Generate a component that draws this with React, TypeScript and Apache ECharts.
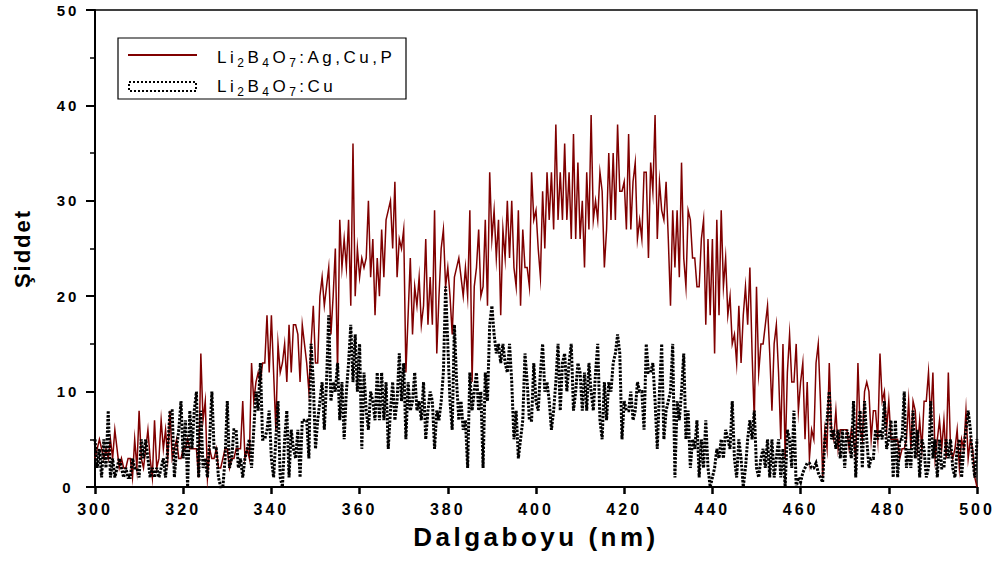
import { useEffect, useRef } from "react";
import * as echarts from "echarts";

// Spectra sampled every 0.5 nm from 300 nm to 500 nm
const WL_START = 300;
const WL_STEP = 0.5;

// Li2B4O7:Ag,Cu,P emission intensity (one row = 5 nm)
const AG_CU_P = [
  3, 4, 5, 4, 3, 4, 3, 5, 3, 6,
  4, 2, 3, 2, 2, 3, 3, 1, 5, 2,
  8, 3, 2, 4, 6, 3, 1, 7, 2, 3,
  7, 4, 6, 3, 8, 3, 4, 5, 3, 3,
  4, 4, 5, 4, 4, 4, 4, 1, 14, 7,
  9, 1, 4, 3, 3, 4, 2, 2, 3, 4,
  4, 2, 3, 3, 4, 4, 4, 9, 3, 4,
  3, 13, 9, 11, 12, 11, 13, 13, 18, 12,
  18, 12, 6, 15, 12, 13, 15, 11, 17, 12,
  17, 17, 16, 11, 17, 15, 13, 10, 15, 19,
  13, 13, 20, 22, 19, 21, 23, 16, 20, 25,
  12, 28, 23, 26, 23, 28, 19, 36, 20, 25,
  22, 24, 23, 24, 30, 22, 26, 18, 24, 20,
  27, 22, 28, 29, 30, 25, 32, 22, 26, 25,
  27, 12, 18, 24, 16, 21, 19, 22, 17, 19,
  26, 17, 22, 17, 29, 14, 20, 25, 27, 21,
  23, 20, 16, 22, 23, 24, 22, 20, 23, 20,
  29, 11, 21, 23, 27, 20, 21, 28, 19, 33,
  26, 29, 24, 28, 18, 27, 24, 30, 24, 30,
  23, 21, 29, 19, 27, 23, 23, 21, 33, 28,
  29, 25, 22, 31, 25, 33, 28, 33, 27, 38,
  28, 33, 28, 36, 28, 33, 26, 37, 26, 34,
  26, 30, 23, 33, 27, 39, 28, 30, 28, 33,
  31, 23, 27, 35, 28, 35, 28, 38, 31, 31,
  32, 27, 37, 27, 32, 34, 26, 28, 26, 33,
  33, 24, 34, 31, 39, 26, 32, 29, 28, 32,
  26, 19, 29, 23, 29, 22, 34, 24, 21, 29,
  28, 24, 24, 21, 21, 26, 28, 17, 26, 18,
  26, 14, 28, 18, 29, 21, 24, 18, 20, 15,
  16, 13, 19, 13, 18, 21, 17, 23, 14, 7,
  21, 12, 15, 15, 17, 19, 14, 8, 15, 17,
  12, 5, 15, 3, 12, 16, 11, 11, 15, 8,
  11, 13, 5, 11, 3, 6, 5, 13, 15, 9,
  1, 6, 4, 13, 6, 5, 8, 4, 6, 6,
  6, 6, 4, 6, 5, 3, 13, 6, 5, 10,
  11, 10, 5, 8, 8, 5, 14, 9, 10, 6,
  9, 5, 5, 5, 5, 3, 4, 4, 5, 9,
  4, 9, 8, 4, 7, 4, 9, 9, 12, 7,
  12, 3, 5, 7, 4, 7, 3, 12, 4, 3,
  4, 6, 2, 5, 4, 8, 3, 5, 4, 1,
  0,
];

// Li2B4O7:Cu emission intensity (one row = 5 nm)
const CU = [
  5, 2, 4, 1, 5, 2, 8, 1, 3, 1,
  2, 3, 2, 1, 2, 1, 1, 3, 2, 2,
  1, 5, 3, 5, 3, 1, 2, 1, 2, 1,
  2, 3, 1, 4, 8, 8, 1, 4, 6, 9,
  3, 7, 0, 8, 4, 8, 10, 1, 8, 2,
  3, 1, 5, 10, 4, 4, 1, 0, 0, 3,
  9, 2, 3, 6, 6, 2, 3, 1, 3, 4,
  5, 2, 6, 10, 8, 13, 5, 5, 6, 8,
  3, 1, 5, 9, 1, 0, 5, 8, 1, 6,
  4, 3, 6, 1, 7, 7, 7, 3, 15, 11,
  4, 7, 9, 11, 6, 11, 18, 9, 11, 10,
  13, 7, 11, 5, 10, 13, 17, 11, 16, 10,
  15, 4, 12, 8, 6, 10, 9, 7, 12, 7,
  12, 7, 11, 4, 8, 11, 7, 9, 14, 9,
  13, 5, 11, 8, 9, 12, 8, 9, 7, 11,
  5, 8, 10, 9, 4, 8, 7, 9, 12, 21,
  15, 9, 6, 17, 11, 7, 9, 6, 7, 2,
  12, 8, 10, 12, 8, 10, 2, 12, 9, 17,
  19, 16, 14, 15, 13, 15, 13, 12, 15, 11,
  5, 8, 3, 5, 7, 14, 11, 7, 7, 13,
  9, 8, 12, 15, 10, 11, 9, 6, 8, 11,
  15, 8, 13, 14, 10, 13, 15, 8, 10, 13,
  12, 8, 12, 8, 13, 10, 8, 12, 15, 7,
  5, 11, 7, 11, 10, 13, 14, 16, 14, 5,
  9, 8, 8, 10, 7, 8, 11, 10, 10, 6,
  15, 12, 12, 13, 9, 4, 10, 15, 5, 8,
  9, 10, 15, 1, 9, 7, 10, 14, 5, 8,
  2, 5, 4, 7, 1, 5, 2, 7, 2, 0,
  1, 2, 4, 3, 5, 3, 6, 5, 4, 9,
  3, 1, 5, 3, 0, 2, 5, 7, 5, 8,
  2, 1, 3, 4, 2, 5, 1, 5, 1, 3,
  5, 1, 4, 0, 6, 5, 2, 8, 0, 1,
  0.5, 1.5, 2, 2.5, 2.5, 2, 2, 2.5, 1.5, 1,
  0.5, 5, 7, 10, 5, 6, 4, 6, 3, 6,
  2, 6, 5, 3, 9, 1, 6, 8, 2, 9,
  5, 2, 3, 3, 6, 5, 6, 5, 9, 4,
  5, 7, 1, 7, 1, 5, 5, 10, 2, 4,
  2, 8, 3, 6, 1, 5, 4, 1, 2, 9,
  3, 5, 1, 5, 2, 2, 5, 3, 5, 2,
  1, 4, 5, 1, 4, 6, 8, 6, 3, 1,
  5,
];

const X_RANGE = { min: 300, max: 500, interval: 20 };
const Y_RANGE = { min: 0, max: 50, interval: 10 };

const X_TITLE = "Dalgaboyu (nm)";
const Y_TITLE = "Şiddet";

// legend entries as rich-text tokens (subscripted digits)
const LEGEND_AG = "{n2|Li}{s|2}{n1|B}{s|4}{n1|O}{s|7}{n9|:Ag,Cu,P}";
const LEGEND_CU = "{n2|Li}{s|2}{n1|B}{s|4}{n1|O}{s|7}{n3|:Cu}";

const SANS = "'Liberation Sans', Arial, Helvetica, sans-serif";

// tracking applied to the rendered SVG texts, keyed by font size
const TRACKING: Record<number, number> = { 15: 3, 16: 3, 17: 3.5, 12: 3.5, 26: 3.5, 22: 2 };
const LEGEND_TRACK = 3.5;

function toPairs(values: number[]) {
  return values.map((v, i) => [WL_START + i * WL_STEP, v]);
}

function applyTracking(root: HTMLElement) {
  root.querySelectorAll("text").forEach((t) => {
    const size = Math.round(parseFloat(getComputedStyle(t).fontSize));
    const ls = TRACKING[size];
    if (ls) (t as SVGTextElement).style.letterSpacing = ls + "px";
  });
}

function legendRich() {
  const base = { fontSize: 17, fontFamily: SANS, color: "#000", lineHeight: 24 };
  return {
    n1: { ...base, padding: [0, LEGEND_TRACK, 0, 0] },
    n2: { ...base, padding: [0, LEGEND_TRACK * 2, 0, 0] },
    n3: { ...base, padding: [0, LEGEND_TRACK * 3, 0, 0] },
    n9: { ...base, padding: [0, LEGEND_TRACK * 9, 0, 0] },
    s: {
      fontSize: 12,
      fontFamily: SANS,
      color: "#000",
      lineHeight: 13,
      verticalAlign: "bottom",
      padding: [0, LEGEND_TRACK, 0, 0],
    },
  };
}

export default function App() {
  const ref = useRef<HTMLDivElement>(null);

  useEffect(() => {
    const el = ref.current;
    if (!el) return;
    const chart = echarts.init(el, undefined, { renderer: "svg" });

    const option = {
      animation: false,
      backgroundColor: "#fff",
      grid: {
        left: 95,
        right: 20,
        top: 10,
        bottom: 74,
        show: true,
        borderColor: "#000",
        borderWidth: 1.5,
        backgroundColor: "transparent",
      },
      xAxis: {
        type: "value",
        min: X_RANGE.min,
        max: X_RANGE.max,
        interval: X_RANGE.interval,
        name: X_TITLE,
        nameLocation: "middle",
        nameGap: 37,
        nameTextStyle: { fontSize: 26, fontWeight: "bold", fontFamily: SANS, color: "#000" },
        axisLine: { onZero: false, lineStyle: { color: "#000", width: 2 } },
        axisTick: { length: 7, lineStyle: { color: "#000", width: 2.5 } },
        axisLabel: { margin: 14, fontSize: 16, fontWeight: "bold", fontFamily: SANS, color: "#000" },
        splitLine: { show: false },
      },
      yAxis: {
        type: "value",
        min: Y_RANGE.min,
        max: Y_RANGE.max,
        interval: Y_RANGE.interval,
        name: Y_TITLE,
        nameLocation: "middle",
        nameGap: 62,
        nameRotate: 90,
        nameTextStyle: { fontSize: 22, fontWeight: "bold", fontFamily: SANS, color: "#000" },
        axisLine: { show: true, lineStyle: { color: "#000", width: 2 } },
        axisTick: { show: true, length: 9, lineStyle: { color: "#000", width: 2 } },
        minorTick: { show: true, splitNumber: 2, length: 5, lineStyle: { color: "#000", width: 1.5 } },
        axisLabel: {
          margin: 27,
          align: "center",
          fontSize: 15,
          fontWeight: "bold",
          fontFamily: SANS,
          color: "#000",
        },
        splitLine: { show: false },
      },
      series: [
        {
          name: "Li2B4O7:Ag,Cu,P",
          type: "line",
          data: toPairs(AG_CU_P),
          showSymbol: false,
          lineStyle: { color: "#800000", width: 1.5, join: "miter", miterLimit: 20 },
          z: 2,
        },
        {
          name: "Li2B4O7:Cu",
          type: "line",
          data: toPairs(CU),
          showSymbol: false,
          lineStyle: { color: "#000", width: 3, type: [2.4, 1.4], cap: "butt", join: "miter" },
          z: 3,
        },
      ],
      graphic: [
        {
          type: "rect",
          shape: { x: 118, y: 38, width: 288, height: 61 },
          style: { fill: "#fff", stroke: "#000", lineWidth: 1.2 },
          z: 10,
        },
        {
          type: "line",
          shape: { x1: 128, y1: 55, x2: 197, y2: 55 },
          style: { stroke: "#800000", lineWidth: 2 },
          z: 11,
        },
        {
          type: "rect",
          shape: { x: 129, y: 82, width: 67, height: 9 },
          style: { fill: "none", stroke: "#000", lineWidth: 2, lineDash: [2, 2] },
          z: 11,
        },
        {
          type: "text",
          x: 217,
          y: 57,
          style: { text: LEGEND_AG, rich: legendRich(), verticalAlign: "middle", align: "left" },
          z: 11,
        },
        {
          type: "text",
          x: 217,
          y: 86,
          style: { text: LEGEND_CU, rich: legendRich(), verticalAlign: "middle", align: "left" },
          z: 11,
        },
      ],
    };

    chart.setOption(option as any);
    const track = () => applyTracking(el);
    track();
    chart.on("finished", track);
    return () => chart.dispose();
  }, []);

  return (
    <div
      ref={ref}
      style={{ position: "fixed", left: 0, top: 0, width: 997, height: 561, background: "#fff" }}
    />
  );
}
